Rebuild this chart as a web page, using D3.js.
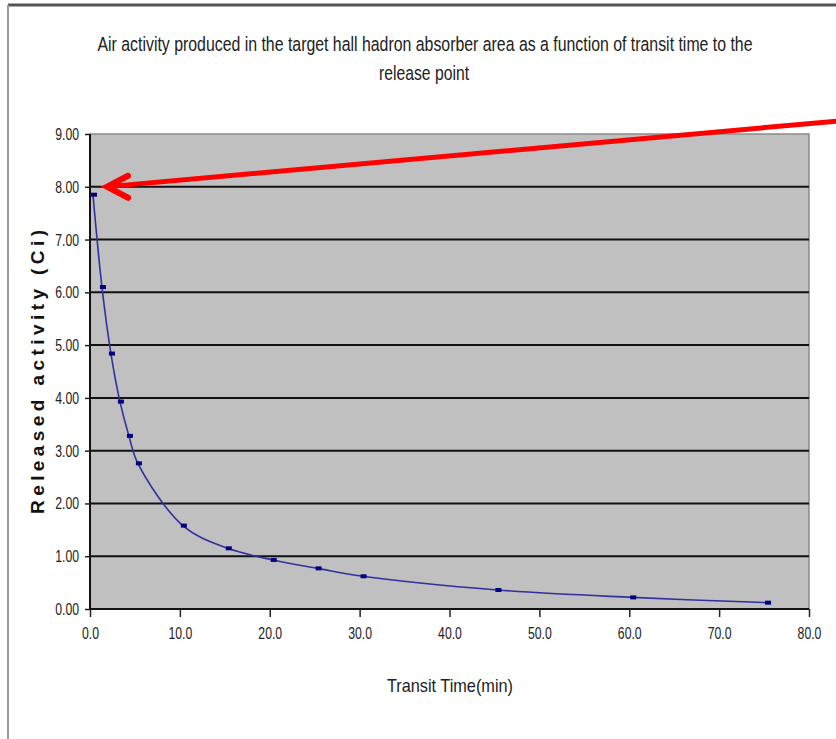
<!DOCTYPE html>
<html>
<head>
<meta charset="utf-8">
<script src="https://cdn.jsdelivr.net/npm/d3@7"></script>
<style>
  html, body { margin: 0; padding: 0; background: #fff; }
  svg { display: block; }
  .narrow { font-family: "Liberation Sans", Arial, sans-serif; fill: #222; }
</style>
</head>
<body>
<svg id="chart" width="836" height="739"></svg>
<script>
// chart data
const titleLines = [
  'Air activity produced in the target hall hadron absorber area  as a function of transit time to the',
  'release point'
];
const transitTime = [0.33, 1.33, 2.33, 3.33, 4.33, 5.33, 10.33, 15.33, 20.33, 25.33, 30.33, 45.33, 60.33, 75.33];
const activity = [7.85, 6.10, 4.84, 3.93, 3.28, 2.76, 1.58, 1.15, 0.93, 0.77, 0.62, 0.36, 0.22, 0.12];
const xTicks = [0, 10, 20, 30, 40, 50, 60, 70, 80];
const yTicks = [0, 1, 2, 3, 4, 5, 6, 7, 8, 9];

const svg = d3.select('#chart');
const W = 836, H = 739;
const plot = { left: 90, right: 809, top: 134, bottom: 609 };

const x = d3.scaleLinear().domain([0, 80]).range([plot.left, plot.right]);
const y = d3.scaleLinear().domain([0, 9]).range([plot.bottom, plot.top]);

// squeeze text horizontally (no narrow font installed)
function squeeze(sel, k) {
  sel.each(function () {
    const len = this.getComputedTextLength();
    d3.select(this).attr('textLength', len * k).attr('lengthAdjust', 'spacingAndGlyphs');
  });
}

// outer frame
svg.append('line').attr('x1', 8).attr('x2', W).attr('y1', 5).attr('y2', 5)
  .attr('stroke', '#555').attr('stroke-width', 3);
svg.append('line').attr('x1', 8).attr('x2', 8).attr('y1', 5).attr('y2', H)
  .attr('stroke', '#9a9a9a').attr('stroke-width', 2);

// title: smaller font stretched vertically to mimic a tall narrow face
svg.append('text').attr('class', 'narrow')
  .attr('transform', 'translate(425,51) scale(1,1.3)')
  .attr('text-anchor', 'middle')
  .attr('font-size', 15).attr('fill', '#111')
  .attr('textLength', 655).attr('lengthAdjust', 'spacingAndGlyphs')
  .text(titleLines[0]);
svg.append('text').attr('class', 'narrow')
  .attr('transform', 'translate(424,80) scale(1,1.3)')
  .attr('text-anchor', 'middle')
  .attr('font-size', 15).attr('fill', '#111')
  .attr('textLength', 90).attr('lengthAdjust', 'spacingAndGlyphs')
  .text(titleLines[1]);

// plot background
svg.append('rect')
  .attr('x', plot.left).attr('y', plot.top)
  .attr('width', plot.right - plot.left).attr('height', plot.bottom - plot.top)
  .attr('fill', '#c0c0c0').attr('stroke', '#8a8a8a').attr('stroke-width', 1.5);

// gridlines
svg.append('g').selectAll('line')
  .data(yTicks.filter(d => d > 0 && d < 9))
  .join('line')
  .attr('x1', plot.left).attr('x2', plot.right)
  .attr('y1', d => y(d)).attr('y2', d => y(d))
  .attr('stroke', '#111').attr('stroke-width', 2);

// axes
const yAxis = svg.append('g').attr('transform', `translate(${plot.left},0)`)
  .call(d3.axisLeft(y).tickValues(yTicks).tickSize(5).tickPadding(6).tickFormat(d3.format('.2f')));
const xAxis = svg.append('g').attr('transform', `translate(0,${plot.bottom})`)
  .call(d3.axisBottom(x).tickValues(xTicks).tickSize(8).tickPadding(10).tickFormat(d3.format('.1f')));

[yAxis, xAxis].forEach(g => {
  g.select('.domain').attr('stroke', '#111').attr('stroke-width', 2);
  g.selectAll('.tick line').attr('stroke', '#222').attr('stroke-width', 1.5);
  g.selectAll('.tick text').attr('class', 'narrow').attr('font-size', 17).attr('fill', '#333')
    .call(squeeze, 0.72);
});
yAxis.select('.domain').attr('d', `M0,${plot.top}V${plot.bottom}`);
xAxis.select('.domain').attr('d', `M${plot.left},0H${plot.right}`);

// axis titles
svg.append('text').attr('class', 'narrow')
  .attr('x', 450).attr('y', 692).attr('text-anchor', 'middle')
  .attr('font-size', 19).attr('fill', '#111')
  .attr('textLength', 126).attr('lengthAdjust', 'spacingAndGlyphs')
  .text('Transit Time(min)');
svg.append('text')
  .attr('transform', 'translate(44,372) rotate(-90)')
  .attr('text-anchor', 'middle')
  .attr('font-family', '"Liberation Sans", Arial, sans-serif')
  .attr('font-weight', 'bold').attr('font-size', 19).attr('fill', '#111')
  .attr('textLength', 284).attr('lengthAdjust', 'spacing')
  .text('Released activity (Ci)');

// series
const pts = transitTime.map((t, i) => [t, activity[i]]);
const line = d3.line().x(d => x(d[0])).y(d => y(d[1])).curve(d3.curveCatmullRom.alpha(0.5));
svg.append('path').datum(pts)
  .attr('d', line)
  .attr('fill', 'none').attr('stroke', '#30309f').attr('stroke-width', 1.6);
svg.append('g').selectAll('rect')
  .data(pts)
  .join('rect')
  .attr('x', d => x(d[0]) - 2).attr('y', d => y(d[1]) - 2)
  .attr('width', 6).attr('height', 4)
  .attr('fill', '#000080');

// red annotation arrow
const tip = [x(1.9), y(8)];
const tail = [W + 2, 121];
const arrow = svg.append('g').attr('stroke', '#ff0000').attr('stroke-width', 5)
  .attr('stroke-linecap', 'round').attr('fill', 'none');
arrow.append('line').attr('x1', tail[0]).attr('y1', tail[1]).attr('x2', tip[0] + 4).attr('y2', tip[1] - 0.4);
arrow.append('path')
  .attr('d', `M${tip[0] + 21},${tip[1] - 11} L${tip[0]},${tip[1]} L${tip[0] + 21},${tip[1] + 11}`)
  .attr('stroke-width', 6).attr('stroke-linejoin', 'miter');
</script>
</body>
</html>
